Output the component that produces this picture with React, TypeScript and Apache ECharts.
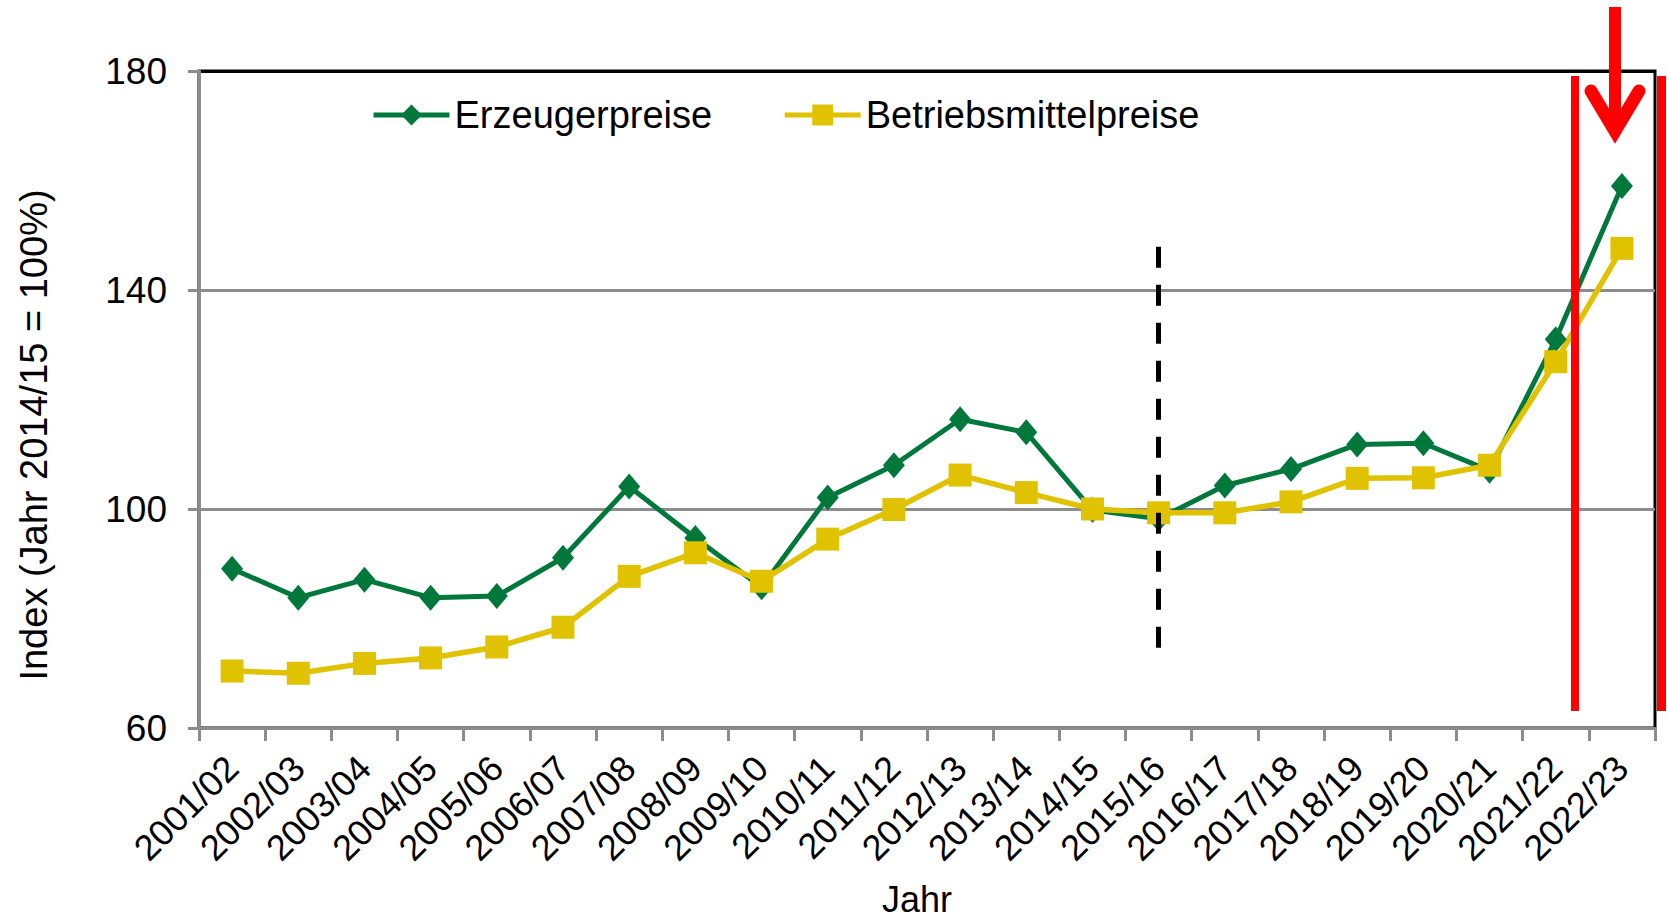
import React, { useEffect, useRef } from 'react';
import * as echarts from 'echarts';

const categories = [
  '2001/02', '2002/03', '2003/04', '2004/05', '2005/06', '2006/07', '2007/08', '2008/09',
  '2009/10', '2010/11', '2011/12', '2012/13', '2013/14', '2014/15', '2015/16', '2016/17',
  '2017/18', '2018/19', '2019/20', '2020/21', '2021/22', '2022/23',
];
const erzeugerpreise = [
  89.1, 83.8, 87.1, 83.8, 84.1, 91.1, 104.1, 94.7, 85.7, 102.1, 108.0, 116.4, 114.0, 99.8,
  98.2, 104.3, 107.3, 111.8, 112.0, 107.0, 131.0, 159.0,
];
const betriebsmittelpreise = [
  70.4, 70.0, 71.8, 72.8, 74.8, 78.4, 87.7, 92.0, 86.8, 94.5, 99.9, 106.2, 103.0, 100.0,
  99.3, 99.3, 101.3, 105.6, 105.7, 108.0, 126.9, 147.6,
];
const seriesNames = ['Erzeugerpreise', 'Betriebsmittelpreise'];
const yMin = 60;
const yMax = 180;
const yInterval = 40;
const breakCategory = '2015/16';
const breakRange = [147.9, 74.2];
const yTitle = 'Index (Jahr 2014/15 = 100%)';
const xTitle = 'Jahr';

const GREEN = '#00783c';
const YELLOW = '#e0c200';
const GREY = '#8c8c8c';
const RED = '#ff0000';
const FONT = "'Liberation Sans', Arial, Helvetica, sans-serif";

export default function App() {
  const ref = useRef<HTMLDivElement>(null);
  useEffect(() => {
    const chart = echarts.init(ref.current as HTMLDivElement, null, { renderer: 'svg' });
    chart.setOption({
      animation: false,
      backgroundColor: '#ffffff',
      textStyle: { fontFamily: FONT },
      grid: {
        left: 199,
        right: 12,
        top: 71,
        bottom: 192,
        show: true,
        borderColor: '#000',
        borderWidth: 3,
        backgroundColor: 'transparent',
      },
      legend: {
        left: 371,
        top: 96,
        padding: 0,
        itemWidth: 76,
        itemHeight: 26,
        itemGap: 70,
        lineStyle: { width: 5 },
        textStyle: { fontSize: 38, color: '#000', fontFamily: FONT },
        data: seriesNames,
      },
      xAxis: {
        type: 'category',
        data: categories,
        boundaryGap: true,
        axisLine: { lineStyle: { color: GREY, width: 3 } },
        axisTick: { show: true, length: 13, lineStyle: { color: GREY, width: 3 } },
        axisLabel: {
          rotate: 45,
          interval: 0,
          margin: 34,
          fontSize: 36,
          color: '#000',
          fontFamily: FONT,
        },
        splitLine: { show: false },
      },
      yAxis: {
        type: 'value',
        min: yMin,
        max: yMax,
        interval: yInterval,
        axisLine: { show: true, lineStyle: { color: GREY, width: 3 } },
        axisTick: { show: true, length: 11, lineStyle: { color: GREY, width: 3 } },
        axisLabel: { margin: 32, fontSize: 37, color: '#000', fontFamily: FONT },
        splitLine: {
          show: true,
          lineStyle: { color: [GREY, GREY, GREY, '#000'], width: 3 },
        },
      },
      series: [
        {
          name: seriesNames[0],
          type: 'line',
          data: erzeugerpreise,
          symbol: 'diamond',
          symbolSize: [22, 26],
          itemStyle: { color: GREEN },
          lineStyle: { color: GREEN, width: 5 },
        },
        {
          name: seriesNames[1],
          type: 'line',
          data: betriebsmittelpreise,
          symbol: 'rect',
          symbolSize: [23, 23],
          itemStyle: { color: YELLOW },
          lineStyle: { color: YELLOW, width: 5.5 },
          markLine: {
            silent: true,
            symbol: ['none', 'none'],
            label: { show: false },
            lineStyle: { color: '#000', type: [21, 17], width: 5 },
            data: [[{ coord: [breakCategory, breakRange[0]] }, { coord: [breakCategory, breakRange[1]] }]],
          },
        },
      ],
      graphic: [
        {
          type: 'text',
          x: 34,
          y: 435,
          rotation: Math.PI / 2,
          style: {
            text: yTitle,
            fontSize: 38,
            fontFamily: FONT,
            fill: '#000',
            align: 'center',
            verticalAlign: 'middle',
          },
        },
        {
          type: 'text',
          x: 917,
          y: 899,
          style: {
            text: xTitle,
            fontSize: 36,
            fontFamily: FONT,
            fill: '#000',
            align: 'center',
            verticalAlign: 'middle',
          },
        },
        {
          type: 'line',
          z: 100,
          shape: { x1: 1575, y1: 76, x2: 1575, y2: 711 },
          style: { stroke: RED, lineWidth: 8 },
        },
        {
          type: 'line',
          z: 100,
          shape: { x1: 1661.5, y1: 76, x2: 1661.5, y2: 711 },
          style: { stroke: RED, lineWidth: 9 },
        },
        {
          type: 'line',
          z: 100,
          shape: { x1: 1615, y1: 7, x2: 1615, y2: 128 },
          style: { stroke: RED, lineWidth: 12 },
        },
        {
          type: 'polyline',
          z: 100,
          shape: { points: [[1591, 91], [1615, 131], [1639, 91]] },
          style: { stroke: RED, lineWidth: 13, lineCap: 'round', lineJoin: 'miter', fill: 'none' },
        },
      ],
    });
    return () => chart.dispose();
  }, []);
  return (
    <div
      ref={ref}
      style={{ position: 'fixed', left: 0, top: 0, width: 1667, height: 920, background: '#fff' }}
    />
  );
}
